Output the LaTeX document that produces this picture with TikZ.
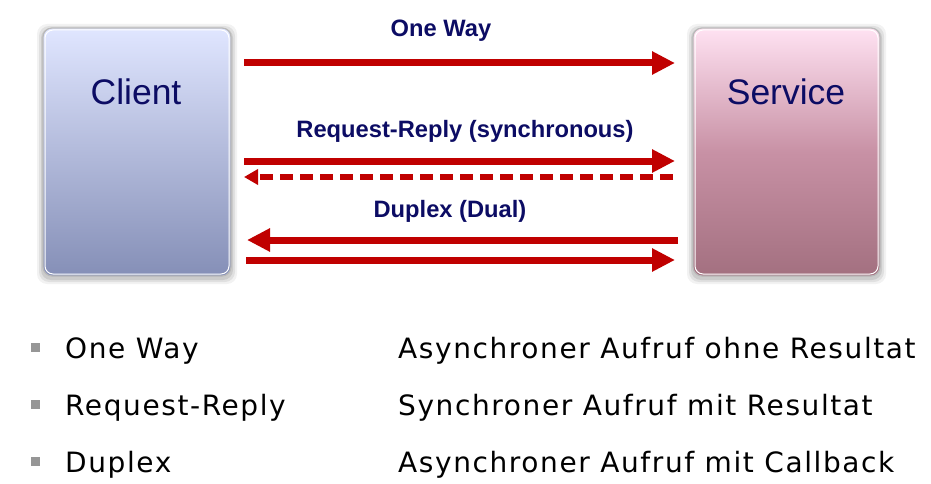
\documentclass[tikz,border=0pt]{standalone}
\usepackage{fontspec}
\setmainfont{Liberation Sans}
\newfontfamily\listfont[LetterSpace=5.7]{DejaVu Sans}
\usetikzlibrary{arrows.meta}
\definecolor{arrowred}{RGB}{192,0,0}
\definecolor{navy}{RGB}{12,12,100}
\definecolor{cltop}{RGB}{224,230,255}
\definecolor{clbot}{RGB}{133,143,183}
\definecolor{svtop}{RGB}{255,226,242}
\definecolor{svbot}{RGB}{163,112,128}
\definecolor{bulletgray}{RGB}{150,150,150}
\tikzset{
  flow/.style={draw=arrowred, line width=7pt, -{Triangle[length=23pt,width=22pt]}},
  reply/.style={draw=arrowred, line width=5.5pt, dash pattern=on 13pt off 7pt, -{Triangle[length=14pt,width=15pt]}},
  flowlabel/.style={font=\bfseries\fontsize{23.7}{26}\selectfont, text=navy},
  boxlabel/.style={font=\fontsize{35.5}{38}\selectfont, text=navy},
  listtext/.style={font=\listfont\fontsize{28}{30}\selectfont, anchor=base west, inner sep=0pt},
  bulletsq/.style={fill=bulletgray, minimum size=9pt, inner sep=0pt},
}
\begin{document}
\begin{tikzpicture}[x=1pt,y=-1pt]
\useasboundingbox (0,0) rectangle (931,484);
\fill[white] (0,0) rectangle (931,484);
% shadows
\foreach \d/\o in {6/0.05,4/0.07,2/0.09}{
  \fill[black, opacity=\o, rounded corners=10pt] (43-\d,28-\d+2) rectangle (231+\d,276+\d+2);
  \fill[black, opacity=\o, rounded corners=10pt] (693-\d,28-\d+2) rectangle (880+\d,276+\d+2);
}
% boxes
\shade[top color=cltop, bottom color=clbot, rounded corners=9pt] (43,28) rectangle (231,276);
\draw[gray!55, line width=1.2pt, rounded corners=9pt] (43,28) rectangle (231,276);
\draw[white, line width=1pt, rounded corners=8pt] (45,30) rectangle (229,274);
\shade[top color=svtop, bottom color=svbot, middle color={rgb,255:red,200;green,145;blue,165}, rounded corners=9pt] (693,28) rectangle (880,276);
\draw[gray!55, line width=1.2pt, rounded corners=9pt] (693,28) rectangle (880,276);
\draw[white, line width=1pt, rounded corners=8pt] (695,30) rectangle (878,274);
\node[boxlabel] (client) at (136,92) {Client};
\node[boxlabel] (service) at (786,92) {Service};
% arrow end points
\coordinate (ow1) at (244,63);  \coordinate (ow2) at (675,63);
\coordinate (rq1) at (244,161); \coordinate (rq2) at (675,161);
\coordinate (rp1) at (673,177); \coordinate (rp2) at (244,177);
\coordinate (dl1) at (678,240); \coordinate (dl2) at (247,240);
\coordinate (dr1) at (246,260); \coordinate (dr2) at (675,260);
\draw[flow] (ow1) -- (ow2);
\draw[flow] (rq1) -- (rq2);
\draw[reply] (rp1) -- (rp2);
\draw[flow] (dl1) -- (dl2);
\draw[flow] (dr1) -- (dr2);
\node[flowlabel] (lone) at (441,31) {One Way};
\node[flowlabel] (lreq) at (465,131) {Request-Reply (synchronous)};
\node[flowlabel] (ldup) at (450,211) {Duplex (Dual)};
% list
\node[bulletsq] (b1) at (35.5,347.5) {};
\node[bulletsq] (b2) at (35.5,404.5) {};
\node[bulletsq] (b3) at (35.5,461.5) {};
\node[listtext] (t1) at (65,358) {One Way};
\node[listtext] (t2) at (65,415) {Request-Reply};
\node[listtext] (t3) at (65,472) {Duplex};
\node[listtext] (d1) at (398,358) {Asynchroner Aufruf ohne Resultat};
\node[listtext] (d2) at (398,415) {Synchroner Aufruf mit Resultat};
\node[listtext] (d3) at (398,472) {Asynchroner Aufruf mit Callback};
\end{tikzpicture}
\end{document}
